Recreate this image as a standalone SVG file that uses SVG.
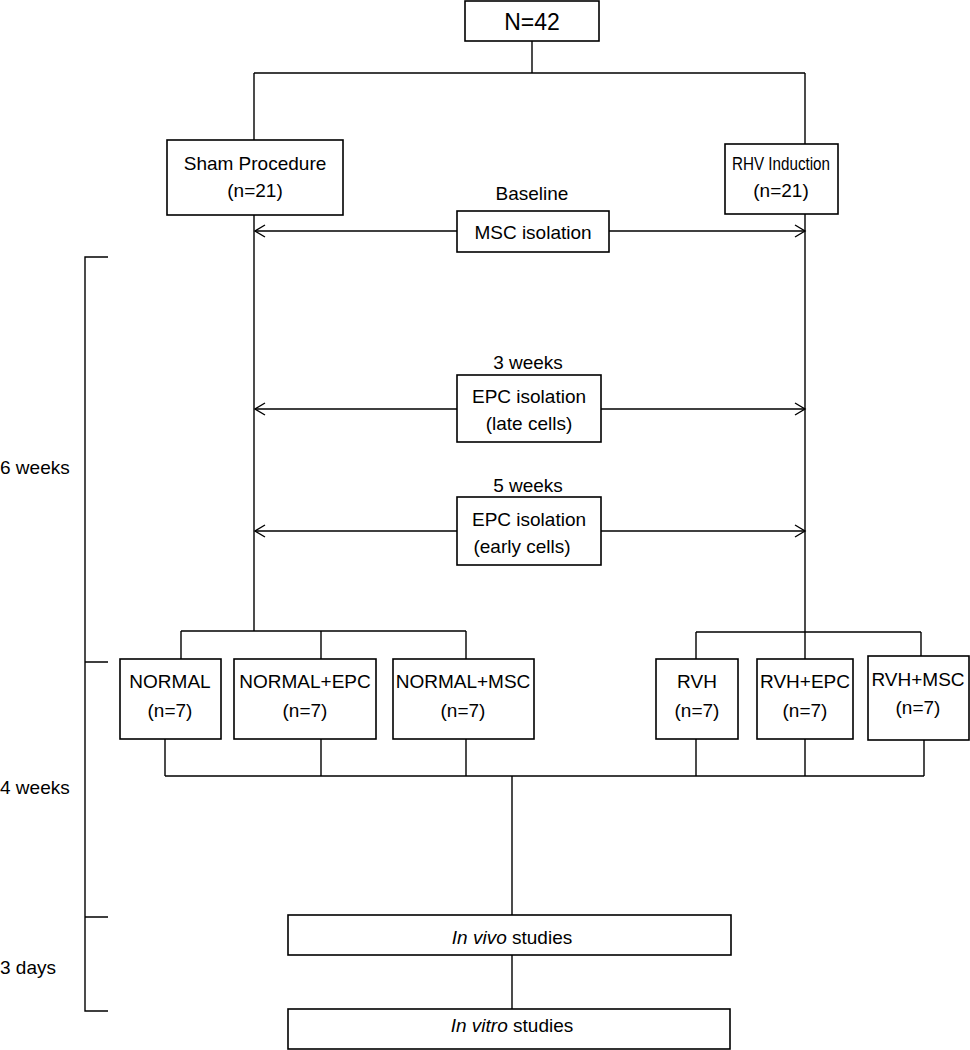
<svg xmlns="http://www.w3.org/2000/svg" width="970" height="1050" viewBox="0 0 970 1050">
<style>
.box{fill:#fff;stroke:#000;stroke-width:1.6}
.ln{fill:none;stroke:#000;stroke-width:1.4}
text{font-family:"Liberation Sans",Arial,sans-serif;font-size:19px;fill:#000;text-anchor:middle}
.big{font-size:23px}
.lft{text-anchor:start}
.it{font-style:italic}
</style>
<defs>
<marker id="ah" markerWidth="14" markerHeight="14" refX="11" refY="7" orient="auto" markerUnits="userSpaceOnUse">
<path d="M1,1 L11,7 L1,13" fill="none" stroke="#000" stroke-width="1.4"/>
</marker>
</defs>
<rect width="970" height="1050" fill="#fff"/>
<g id="connectors">
<path class="ln" d="M532,41 V73 M254,73 H805 M254,73 V140 M805,73 V144"/>
<path class="ln" d="M254,215 V631 M805,214 V632"/>
<path class="ln" d="M457,231 H255" marker-end="url(#ah)"/>
<path class="ln" d="M609,231 H805" marker-end="url(#ah)"/>
<path class="ln" d="M457,409 H255" marker-end="url(#ah)"/>
<path class="ln" d="M601,409 H805" marker-end="url(#ah)"/>
<path class="ln" d="M457,531 H255" marker-end="url(#ah)"/>
<path class="ln" d="M601,531 H805" marker-end="url(#ah)"/>
<path class="ln" d="M181,631 H466 M181,631 V659 M321,631 V659 M466,631 V659"/>
<path class="ln" d="M696,632 H921 M696,632 V659 M805,632 V659 M921,632 V656"/>
<path class="ln" d="M165,739 V776 M321,739 V776 M466,739 V776 M696,739 V776 M805,739 V776 M924,740 V776 M165,776 H924"/>
<path class="ln" d="M512,776 V915 M512,955 V1009"/>
<path class="ln" d="M108,257 H85 V1011 H108 M85,662 H108 M85,917 H108"/>
</g>
<g id="n42"><rect class="box" x="465" y="1" width="134" height="40"/><text class="big" x="532" y="30">N=42</text></g>
<g id="sham"><rect class="box" x="167" y="140" width="176" height="75"/><text x="255" y="170">Sham Procedure</text><text x="255" y="197">(n=21)</text></g>
<g id="rhv"><rect class="box" x="725" y="144" width="113" height="70"/><text x="781" y="170" textLength="98" lengthAdjust="spacingAndGlyphs">RHV Induction</text><text x="781" y="197">(n=21)</text></g>
<g id="baseline"><text x="532" y="200">Baseline</text></g>
<g id="msc"><rect class="box" x="457" y="211" width="152" height="41"/><text x="533" y="239">MSC isolation</text></g>
<g id="w3"><text x="528" y="369">3 weeks</text></g>
<g id="epc-late"><rect class="box" x="457" y="375" width="144" height="67"/><text x="529" y="403">EPC isolation</text><text x="529" y="430">(late cells)</text></g>
<g id="w5"><text x="528" y="492">5 weeks</text></g>
<g id="epc-early"><rect class="box" x="457" y="497" width="144" height="68"/><text x="529" y="526">EPC isolation</text><text x="522" y="553">(early cells)</text></g>
<g id="normal"><rect class="box" x="120" y="659" width="101" height="80"/><text x="170" y="688">NORMAL</text><text x="170" y="717">(n=7)</text></g>
<g id="normal-epc"><rect class="box" x="234" y="659" width="142" height="80"/><text x="305" y="688">NORMAL+EPC</text><text x="305" y="717">(n=7)</text></g>
<g id="normal-msc"><rect class="box" x="393" y="659" width="141" height="80"/><text x="463" y="688">NORMAL+MSC</text><text x="463" y="717">(n=7)</text></g>
<g id="rvh"><rect class="box" x="656" y="659" width="82" height="80"/><text x="697" y="688">RVH</text><text x="697" y="717">(n=7)</text></g>
<g id="rvh-epc"><rect class="box" x="757" y="659" width="96" height="80"/><text x="805" y="688">RVH+EPC</text><text x="805" y="717">(n=7)</text></g>
<g id="rvh-msc"><rect class="box" x="868" y="656" width="101" height="84"/><text x="918" y="686">RVH+MSC</text><text x="918" y="714">(n=7)</text></g>
<g id="invivo"><rect class="box" x="288" y="915" width="443" height="40"/><text x="512" y="944"><tspan class="it">In vivo</tspan> studies</text></g>
<g id="invitro"><rect class="box" x="288" y="1009" width="442" height="40"/><text x="512" y="1032"><tspan class="it">In vitro</tspan> studies</text></g>
<g id="labels"><text class="lft" x="0" y="474">6 weeks</text><text class="lft" x="0" y="794">4 weeks</text><text class="lft" x="0" y="974">3 days</text></g>
</svg>
